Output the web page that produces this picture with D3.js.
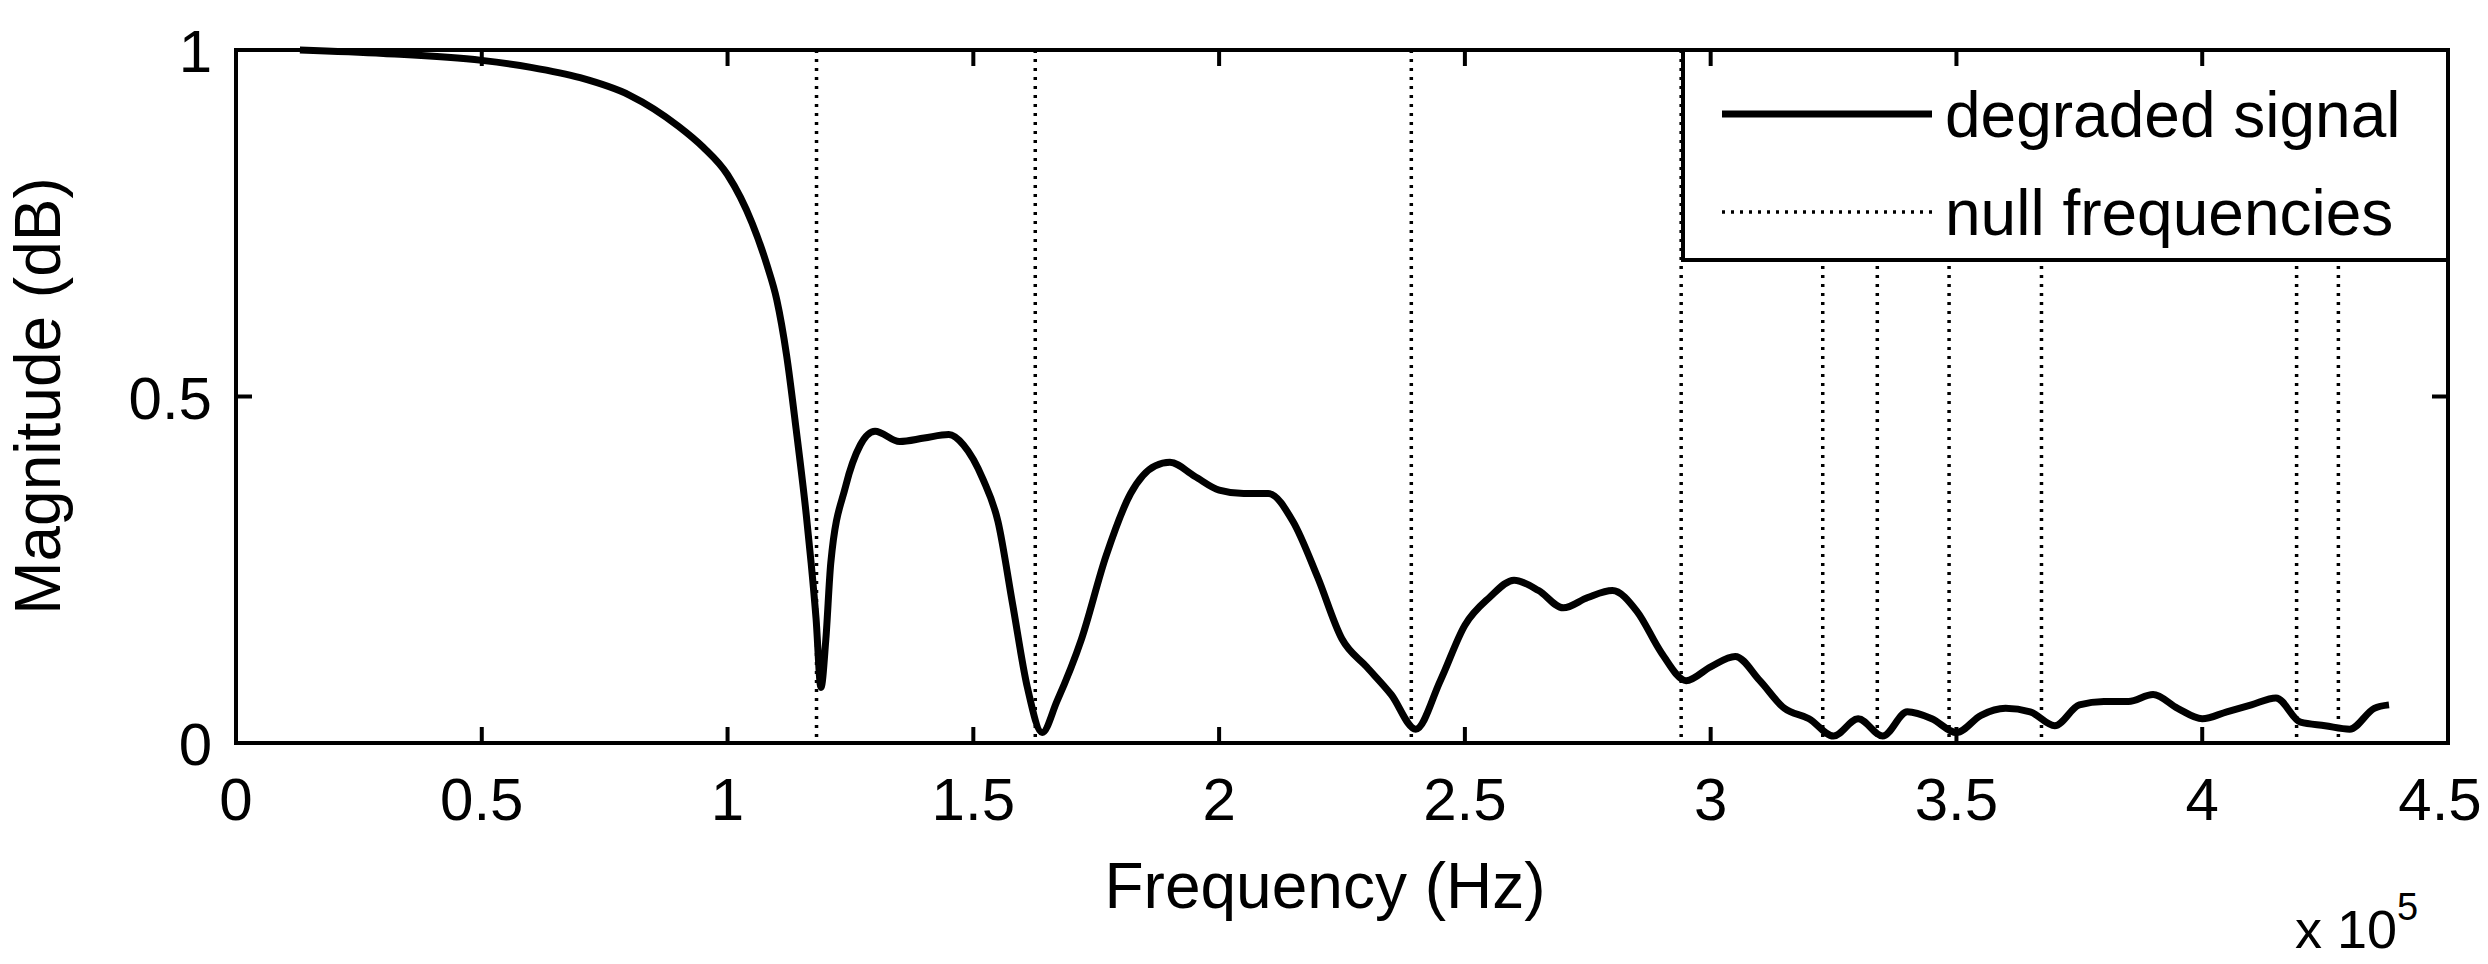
<!DOCTYPE html>
<html><head><meta charset="utf-8">
<script src="https://cdn.jsdelivr.net/npm/d3@7"></script>
<style>body{margin:0;background:#fff}text{font-family:"Liberation Sans",Arial,sans-serif;fill:#000}</style>
</head><body><svg id="c" width="2488" height="964"></svg>
<script>
const freq = [0.13,0.3,0.5,0.6,0.7,0.8,0.9,0.95,1.0,1.05,1.08,1.1,1.12,1.14,1.16,1.17,1.18,1.19,1.2,1.21,1.24,1.27,1.3,1.35,1.4,1.45,1.48,1.52,1.55,1.58,1.61,1.64,1.67,1.72,1.77,1.82,1.87,1.9,1.95,2.0,2.05,2.1,2.15,2.2,2.25,2.3,2.35,2.4,2.45,2.5,2.55,2.6,2.65,2.7,2.75,2.8,2.85,2.9,2.95,3.0,3.05,3.1,3.15,3.2,3.25,3.3,3.35,3.4,3.45,3.5,3.55,3.6,3.65,3.7,3.75,3.8,3.85,3.9,3.95,4.0,4.05,4.1,4.15,4.2,4.25,4.3,4.35,4.38];
const magnitude = [1.0,0.995,0.985,0.975,0.96,0.935,0.89,0.86,0.82,0.75,0.69,0.64,0.56,0.45,0.33,0.26,0.18,0.08,0.15,0.26,0.37,0.43,0.45,0.435,0.44,0.445,0.43,0.38,0.32,0.2,0.08,0.015,0.06,0.15,0.27,0.36,0.40,0.405,0.385,0.365,0.36,0.36,0.32,0.24,0.15,0.11,0.07,0.02,0.09,0.17,0.21,0.235,0.22,0.195,0.21,0.22,0.19,0.13,0.09,0.11,0.125,0.09,0.05,0.035,0.01,0.035,0.01,0.045,0.035,0.015,0.04,0.05,0.045,0.025,0.055,0.06,0.06,0.07,0.05,0.035,0.045,0.055,0.065,0.03,0.025,0.02,0.05,0.055];
const nullFreqs = [1.181,1.626,2.391,2.94,3.228,3.339,3.485,3.673,4.192,4.277];
const xTicks = [0,0.5,1,1.5,2,2.5,3,3.5,4,4.5];
const yTicks = [0,0.5,1];

const L=236,R=2448,T=50,B=743;
const svg=d3.select("#c");
const x=d3.scaleLinear().domain([0,4.5]).range([L,R]);
const y=d3.scaleLinear().domain([0,1]).range([B,T]);
const fs=64, tfs=60;

svg.append("g").selectAll("line").data(nullFreqs).join("line")
 .attr("x1",d=>x(d)).attr("x2",d=>x(d)).attr("y1",T).attr("y2",B)
 .attr("stroke","#000").attr("stroke-width",3.5).attr("stroke-dasharray","3,6");

svg.append("path").datum(freq.map((f,i)=>[f,magnitude[i]]))
 .attr("d",d3.line().curve(d3.curveMonotoneX).x(d=>x(d[0])).y(d=>y(d[1])))
 .attr("fill","none").attr("stroke","#000").attr("stroke-width",7).attr("stroke-linejoin","round");

const lg=svg.append("g");
lg.append("rect").attr("x",1683).attr("y",T).attr("width",R-1683).attr("height",210).attr("fill","#fff").attr("stroke","#000").attr("stroke-width",4);
lg.append("line").attr("x1",1722).attr("x2",1932).attr("y1",114).attr("y2",114).attr("stroke","#000").attr("stroke-width",7);
lg.append("line").attr("x1",1722).attr("x2",1932).attr("y1",212).attr("y2",212).attr("stroke","#000").attr("stroke-width",3.5).attr("stroke-dasharray","3,6");
lg.append("text").attr("x",1945).attr("y",137).attr("font-size",fs).text("degraded signal");
lg.append("text").attr("x",1945).attr("y",235).attr("font-size",fs).text("null frequencies");

svg.append("rect").attr("x",L).attr("y",T).attr("width",R-L).attr("height",B-T).attr("fill","none").attr("stroke","#000").attr("stroke-width",4);
const tl=16;
xTicks.forEach((t,i)=>{
 svg.append("line").attr("x1",x(t)).attr("x2",x(t)).attr("y1",B).attr("y2",B-tl).attr("stroke","#000").attr("stroke-width",4);
 svg.append("line").attr("x1",x(t)).attr("x2",x(t)).attr("y1",T).attr("y2",T+tl).attr("stroke","#000").attr("stroke-width",4);
 svg.append("text").attr("x",x(t)-(i===xTicks.length-1?8:0)).attr("y",820).attr("text-anchor","middle").attr("font-size",tfs).text(t);
});
yTicks.forEach(t=>{
 svg.append("line").attr("x1",L).attr("x2",L+tl).attr("y1",y(t)).attr("y2",y(t)).attr("stroke","#000").attr("stroke-width",4);
 svg.append("line").attr("x1",R).attr("x2",R-tl).attr("y1",y(t)).attr("y2",y(t)).attr("stroke","#000").attr("stroke-width",4);
 svg.append("text").attr("x",212).attr("y",y(t)+22).attr("text-anchor","end").attr("font-size",tfs).text(t);
});
svg.append("text").attr("x",1325).attr("y",908).attr("text-anchor","middle").attr("font-size",fs).text("Frequency (Hz)");
svg.append("text").attr("transform","translate(60,396) rotate(-90)").attr("text-anchor","middle").attr("font-size",fs).text("Magnitude (dB)");
const xl=svg.append("text").attr("x",2295).attr("y",948).attr("font-size",54).text("x 10");
xl.append("tspan").attr("dy",-28).attr("font-size",38).text("5");
</script></body></html>
